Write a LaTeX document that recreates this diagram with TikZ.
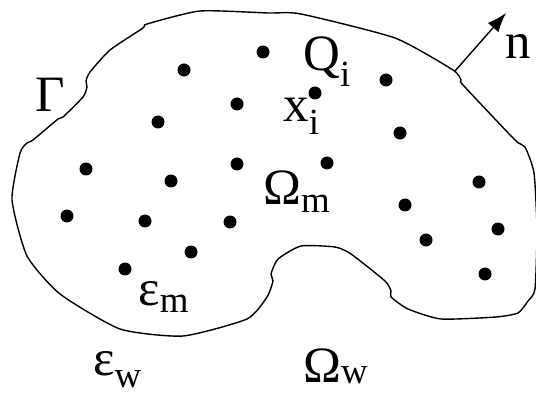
\documentclass[tikz,border=0pt]{standalone}
\usepackage{fontspec}
\setmainfont{Liberation Serif}
\usetikzlibrary{arrows.meta}

\newcommand{\lowsub}[2]{\raisebox{-#1}{\fontsize{21}{21}\selectfont #2}}

\begin{document}
\begin{tikzpicture}[
    x=0.02cm, y=-0.02cm,
    charge/.style={circle, fill=black, inner sep=0pt, minimum size=0.26cm},
    boundary/.style={line width=0.8pt, line join=round},
    symb/.style={anchor=base west, inner sep=0pt, font=\fontsize{29}{30}\selectfont},
    normal/.style={-{Latex[length=11pt, width=8pt]}, line width=0.8pt}
]
\useasboundingbox (0,0) rectangle (536,394);

% Molecular surface
\draw[boundary] plot[smooth cycle, tension=0.35] coordinates {
    (12,200) (20,153) (27,143) (33,140) (58,119) (63,117) (83,97) (87,87)
    (86,81) (90,72) (110,50) (143,28) (147,24) (200,11) (268,13) (301,14)
    (395,38) (453,70) (461,80) (463,85) (515,140) (525,147) (534,173)
    (537,230) (535,289) (528,301) (518,313) (496,317) (441,319) (408,309)
    (391,297) (391,291) (385,281) (351,254) (335,247) (301,246) (278,259)
    (271,274) (273,281) (267,297) (247,319) (183,336) (120,329) (60,294)
    (27,256)};

% Point charges
\foreach \px/\py [count=\k] in {263/52, 184/70, 237/104, 315/93, 386/80,
    158/122, 400/133, 86/169, 171/181, 237/164, 327/163, 479/182,
    405/205, 67/216, 145/221, 230/222, 498/229, 426/240, 191/252,
    125/269, 485/274}
    \node[charge] (q\k) at (\px,\py) {};

% Normal vector
\coordinate (nbase) at (455,71);
\coordinate (ntip) at (506,13);
\draw[normal] (nbase) -- (ntip);
\node[symb] (nlab) at (505,59) {n};

% Labels
\node[symb] (gamma) at (35,112) {Γ};
\node[symb] (qi) at (303,71) {Q\lowsub{9pt}{i}};
\node[symb] (xi) at (283,122) {x\lowsub{7pt}{i}};
\node[symb] (omm) at (263,205) {Ω\lowsub{4pt}{m}};
\node[symb] (epsm) at (138,305) {ε\lowsub{4pt}{m}};
\node[symb] (epsw) at (93,375) {ε\lowsub{7pt}{w}};
\node[symb] (omw) at (303,382) {Ω\lowsub{1pt}{w}};
\end{tikzpicture}
\end{document}
